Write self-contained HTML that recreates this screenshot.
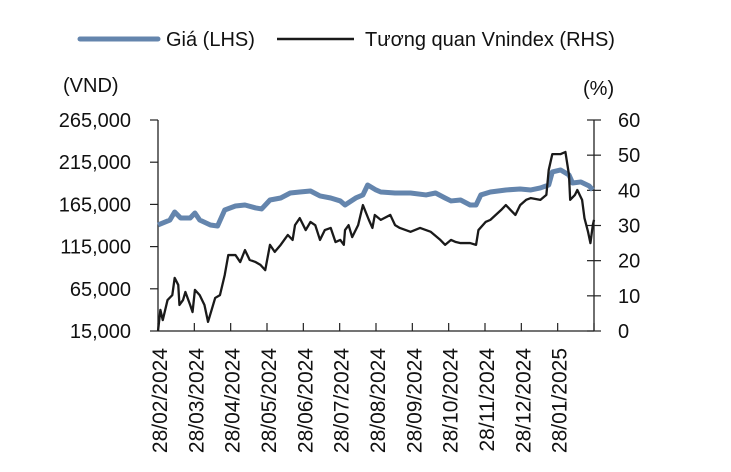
<!DOCTYPE html>
<html><head><meta charset="utf-8"><style>
body{margin:0;background:#fff;}
svg{display:block;font-family:"Liberation Sans",sans-serif;}
</style></head><body>
<svg id="c" width="731" height="472"></svg>
<script>
const days=[0,10,14,19,27,31,35,44,50,56,65,73,82,87,94,103,111,119,128,136,145,153,157,166,172,176,183,187,199,212,225,233,241,246,254,262,267,271,279,292,304,313,321,328,331,338,345,348,355,362,365];
const price=[140600,146500,156000,148900,148900,154800,146500,140600,139400,158400,163100,164300,160800,159600,170200,172600,178500,179700,180900,175000,172600,169100,164300,172600,176200,188000,182100,179700,178500,178500,176200,178500,172600,169100,170200,164300,164300,176200,179700,182100,183300,182100,184500,188000,203400,205800,199900,190400,191600,186800,182100];
const corrDays=[0,2,4,8,12,14,17,18,21,23,27,29,31,35,39,42,45,48,52,56,59,65,69,73,77,82,86,90,94,98,103,107,109,113,115,119,124,128,132,136,140,145,149,153,156,157,160,163,168,172,177,180,182,187,195,199,203,212,220,229,237,241,246,250,254,262,267,269,275,279,288,292,296,300,304,309,313,321,326,328,331,338,342,345,346,350,352,356,358,361,363,365,366];
const corr=[0,6.0,3.1,8.8,10.2,15.1,13.1,7.4,8.8,11.1,7.4,5.4,11.7,10.2,7.4,2.6,6.0,9.4,10.2,15.9,21.6,21.6,19.6,23.0,20.2,19.6,18.8,17.3,24.5,22.5,24.5,26.4,27.3,25.9,30.1,32.1,28.7,31.0,30.1,25.9,28.7,29.3,25.3,25.9,24.5,28.7,30.1,26.7,30.1,35.8,31.6,29.3,33.0,31.6,33.0,30.1,29.3,28.2,29.3,28.2,25.9,24.5,25.9,25.3,25.0,25.0,24.5,28.7,31.0,31.6,34.4,35.8,34.4,33.0,35.8,37.3,37.8,37.3,38.7,45.8,50.3,50.3,50.9,44.4,37.3,38.7,40.1,37.3,32.1,28.2,25.0,30.1,31.6];
const leftTicks=[15000,65000,115000,165000,215000,265000];
const leftLabels=["15,000","65,000","115,000","165,000","215,000","265,000"];
const rightTicks=[0,10,20,30,40,50,60];
const xLabels=["28/02/2024","28/03/2024","28/04/2024","28/05/2024","28/06/2024","28/07/2024","28/08/2024","28/09/2024","28/10/2024","28/11/2024","28/12/2024","28/01/2025"];

const X0=158,X1=594,Y0=331,Y1=120,NS="http://www.w3.org/2000/svg";
const xs=d=>X0+d*(X1-X0)/366;
const yL=v=>Y0-(v-15000)*(Y0-Y1)/250000;
const yR=v=>Y0-v*(Y0-Y1)/60;
const svg=document.getElementById('c');
function mk(t,a,txt){const e=document.createElementNS(NS,t);for(const k in a)e.setAttribute(k,a[k]);if(txt!=null)e.textContent=txt;svg.appendChild(e);return e;}
let e=mk('line',{x1:X0,y1:Y1,x2:X0,y2:Y0,stroke:'#222','stroke-width':1.3});


e=mk('line',{x1:X1,y1:Y1,x2:X1,y2:Y0,stroke:'#222','stroke-width':1.3});


e=mk('line',{x1:X0,y1:Y0,x2:X1,y2:Y0,stroke:'#222','stroke-width':1.3});


leftTicks.forEach((v,i)=>{
  mk('line',{x1:X0-8,y1:yL(v),x2:X0,y2:yL(v),stroke:'#222','stroke-width':1.2});
  e=mk('text',{x:131,y:yL(v)+7,'text-anchor':'end','font-size':20,fill:'#111'},leftLabels[i]);
  
  
});
rightTicks.forEach(v=>{
  mk('line',{x1:X1-7,y1:yR(v),x2:X1+7,y2:yR(v),stroke:'#222','stroke-width':1.2});
  e=mk('text',{x:618,y:yR(v)+7,'font-size':20,fill:'#111'},String(v));
  
  
});
for(let i=0;i<=12;i++){const x=X0+i*(X1-X0)/12;mk('line',{x1:x,y1:Y0,x2:x,y2:Y0-8,stroke:'#222','stroke-width':1.2});}
xLabels.forEach((l,i)=>{const x=X0+i*(X1-X0)/12+9;
  e=mk('text',{x:0,y:0,transform:`translate(${x},348) rotate(-90)`,'text-anchor':'end','font-size':21,fill:'#111'},l);
  
  
});
e=mk('text',{x:63,y:92,'font-size':20,fill:'#111'},'(VND)');


e=mk('text',{x:583,y:95,'font-size':20,fill:'#111'},'(%)');


e=mk('polyline',{points:days.map((d,i)=>xs(d)+','+yL(price[i])).join(' '),fill:'none',stroke:'#6485ad','stroke-width':5,'stroke-linejoin':'round'});


e=mk('polyline',{points:corrDays.map((d,i)=>xs(d)+','+yR(corr[i])).join(' '),fill:'none',stroke:'#1a1a1a','stroke-width':2.3,'stroke-linejoin':'round'});


e=mk('line',{x1:80,y1:39,x2:158,y2:39,stroke:'#6485ad','stroke-width':5,'stroke-linecap':'round'});


e=mk('text',{x:166,y:46,'font-size':20,fill:'#111'},'Giá (LHS)');


e=mk('line',{x1:277,y1:39,x2:354,y2:39,stroke:'#1a1a1a','stroke-width':2.5});


e=mk('text',{x:365,y:46,'font-size':20,fill:'#111'},'Tương quan Vnindex (RHS)');


</script>
</body></html>
